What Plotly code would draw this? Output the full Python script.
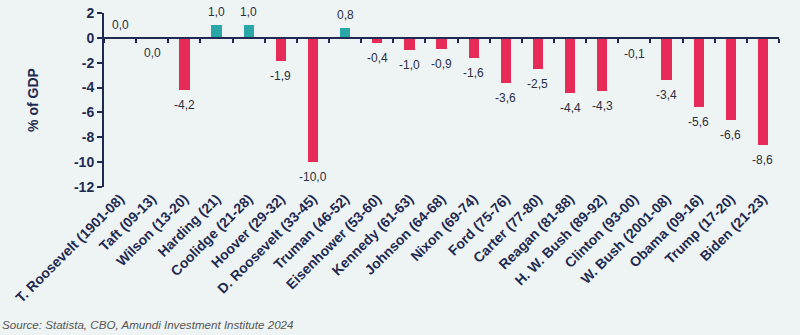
import plotly.graph_objects as go

# Budget balance by presidency, % of GDP
presidents = [
    "T. Roosevelt (1901-08)", "Taft (09-13)", "Wilson (13-20)", "Harding (21)",
    "Coolidge (21-28)", "Hoover (29-32)", "D. Roosevelt (33-45)", "Truman (46-52)",
    "Eisenhower (53-60)", "Kennedy (61-63)", "Johnson (64-68)", "Nixon (69-74)",
    "Ford (75-76)", "Carter (77-80)", "Reagan (81-88)", "H. W. Bush (89-92)",
    "Clinton (93-00)", "W. Bush (2001-08)", "Obama (09-16)", "Trump (17-20)",
    "Biden (21-23)",
]
balance = [0.0, 0.0, -4.2, 1.0, 1.0, -1.9, -10.0, 0.8, -0.4, -1.0, -0.9, -1.6,
           -3.6, -2.5, -4.4, -4.3, -0.1, -3.4, -5.6, -6.6, -8.6]
# which side of the bar each value label sits on
label_above = [True, False, False, True, True, False, False, True, False, False,
               False, False, False, False, False, False, False, False, False,
               False, False]
y_ticks = [2, 0, -2, -4, -6, -8, -10, -12]
y_range = [-12, 2]

NAVY = "#1F2A52"
RED = "#E62B58"
TEAL = "#2AA6A6"
BG = "#EEF4F4"
FONT = "Liberation Sans, Arial"

fig = go.Figure()
fig.add_trace(go.Bar(
    x=presidents, y=balance,
    marker=dict(color=[TEAL if v > 0 else RED for v in balance], line_width=0),
    width=0.32, hoverinfo="skip",
))
# helper trace so the zero-line axis carries the same categories
fig.add_trace(go.Scatter(
    x=presidents, y=[0] * len(presidents), xaxis="x2",
    mode="markers", marker=dict(opacity=0), hoverinfo="skip", showlegend=False,
))

for name, v, up in zip(presidents, balance, label_above):
    fig.add_annotation(
        x=name, y=v, text=f"{v:.1f}".replace(".", ","),
        showarrow=False, yshift=13 if up else -15,
        font=dict(family=FONT, size=12, color="#2B2F3F"),
    )

zero_pos = (0 - y_range[0]) / (y_range[1] - y_range[0])

fig.update_layout(
    width=800, height=335,
    margin=dict(l=104, r=21, t=13, b=148),
    paper_bgcolor=BG, plot_bgcolor=BG,
    showlegend=False,
    bargap=0,
    xaxis=dict(
        type="category", range=[-0.5, len(presidents) - 0.5],
        showline=False, ticks="", showgrid=False, zeroline=False,
        tickangle=-45, automargin=False,
        tickfont=dict(family=FONT, size=14, color=NAVY, weight="bold"),
    ),
    xaxis2=dict(
        type="category", range=[-0.5, len(presidents) - 0.5],
        overlaying="x", anchor="free", position=zero_pos,
        showline=True, linecolor=NAVY, linewidth=2,
        ticks="outside", tickson="boundaries", ticklen=4, tickwidth=2,
        tickcolor=NAVY, showticklabels=False, showgrid=False, zeroline=False,
    ),
    yaxis=dict(
        range=y_range, tickvals=y_ticks, ticktext=[str(t) for t in y_ticks],
        showline=True, linecolor=NAVY, linewidth=2,
        ticks="outside", ticklen=5, tickwidth=2, tickcolor=NAVY,
        showgrid=False, zeroline=False, automargin=False,
        tickfont=dict(family=FONT, size=14, color=NAVY, weight="bold"),
        title=dict(text="% of GDP", standoff=32,
                   font=dict(family=FONT, size=14, color=NAVY, weight="bold")),
    ),
)

fig.add_annotation(
    xref="paper", yref="paper", x=-104 / 675, y=-137 / 174,
    xanchor="left", yanchor="middle", showarrow=False,
    text="<i>Source: Statista, CBO, Amundi Investment Institute 2024</i>",
    font=dict(family=FONT, size=11.6, color="#555555"),
)

fig.write_html("out.html")
